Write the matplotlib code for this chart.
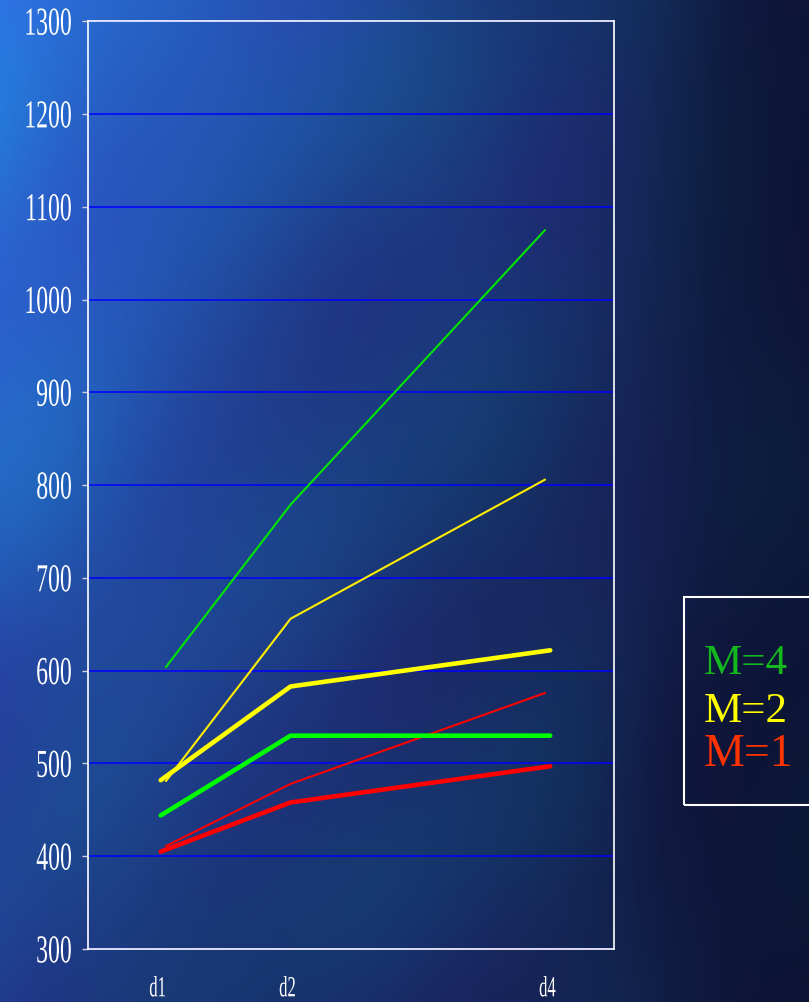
import numpy as np
import matplotlib
matplotlib.use("Agg")
import matplotlib.pyplot as plt
from matplotlib.patches import Rectangle
from matplotlib.patheffects import AbstractPathEffect
from matplotlib.transforms import Affine2D, ScaledTranslation

# sampling days (d1, d2, d4) and the two runs for each M
days = [1, 2, 4]
days_run_a = [1.04, 2.0, 3.96]
day_labels = ["d1", "d2", "d4"]

run_a_m4 = [604, 779, 1075]
run_a_m2 = [481, 656, 806]
run_a_m1 = [411, 478, 576]

run_b_m4 = [444, 530, 530]
run_b_m2 = [482, 583, 622]
run_b_m1 = [405, 458, 497]

y_ticks = [300, 400, 500, 600, 700, 800, 900, 1000, 1100, 1200, 1300]
legend_labels = ["M=4", "M=2", "M=1"]


class Stretch(AbstractPathEffect):
    """Rescale the glyph outlines, keeping one horizontal edge and the ink's mid-height fixed."""

    def __init__(self, sx, sy=1.0, anchor="right"):
        super().__init__()
        self.sx = sx
        self.sy = sy
        self.anchor = anchor

    def draw_path(self, renderer, gc, tpath, affine, rgbFace=None):
        ext = tpath.get_extents()
        if self.anchor == "right":
            x0 = ext.x1
        elif self.anchor == "center":
            x0 = (ext.x0 + ext.x1) / 2
        else:
            x0 = ext.x0
        y0 = (ext.y0 + ext.y1) / 2
        sc = Affine2D().translate(-x0, -y0).scale(self.sx, self.sy).translate(x0, y0)
        renderer.draw_path(gc, tpath, sc + affine, rgbFace)


def backdrop(h=280, w=230):
    # cloudy blue slide background: bright top-left, dark navy on the right
    u = np.linspace(0, 1, w)[None, :]
    v = np.linspace(0, 1, h)[:, None]
    tau = 2 * np.pi
    edge = np.clip((u - 0.7) / 0.25, 0, 1)
    t = 1 - 0.95 * u - 0.5 * v + 0.45 * u * v - 0.15 * edge * edge * (3 - 2 * edge)
    f1 = (0.5 * np.sin(tau * (1.4 * u + 0.9 * v) + 0.6) * np.cos(tau * (1.1 * u - 1.6 * v) + 1.1)
          + 0.35 * np.sin(tau * (2.6 * v + 1.9 * u) + 0.3)
          + 0.25 * np.cos(tau * (3.1 * u - 0.8 * v) + 2.2))
    f2 = 0.5 * np.cos(tau * (1.7 * u + 0.3 * v) + 2.0) * np.sin(tau * (0.5 * u + 1.6 * v) + 0.4)
    t = t + 0.07 * f2

    stops = [-0.35, 0.0, 0.25, 0.5, 0.75, 1.0]
    reds = [10, 15, 23, 30, 38, 46]
    greens = [14, 27, 45, 63, 90, 115]
    blues = [40, 64, 100, 138, 188, 228]
    rgb = np.stack([np.interp(t, stops, reds),
                    np.interp(t, stops, greens),
                    np.interp(t, stops, blues)], axis=-1)
    w8 = np.clip(0.35 + 0.65 * t, 0.2, 1)[..., None]
    rgb += f1[..., None] * np.array([-7, 18, 4.0]) * w8
    return np.clip(rgb, 0, 255) / 255


fig = plt.figure(figsize=(8.09, 10.03), dpi=100)

bg = fig.add_axes([0, 0, 1, 1], zorder=0)
bg.imshow(backdrop(), aspect="auto", interpolation="bicubic", extent=[0, 1, 0, 1])
bg.axis("off")

ax = fig.add_axes([0.1088, 0.0528, 0.650, 0.925], zorder=1)
ax.set_facecolor("none")

ax.plot(days_run_a, run_a_m4, color="#00e600", lw=1.5, solid_capstyle="round")
ax.plot(days_run_a, run_a_m2, color="#ffee00", lw=1.5, solid_capstyle="round")
ax.plot(days_run_a, run_a_m1, color="#ff0000", lw=1.5, solid_capstyle="round")
ax.plot(days, run_b_m4, color="#00ff00", lw=3.3, solid_capstyle="round")
ax.plot(days, run_b_m2, color="#ffff00", lw=3.3, solid_capstyle="round")
ax.plot(days, run_b_m1, color="#ff0000", lw=3.3, solid_capstyle="round")

ax.set_xlim(0.44, 4.49)
ax.set_ylim(300, 1300)

ax.set_yticks(y_ticks)
ax.set_yticklabels([str(t) for t in y_ticks])
ax.set_xticks(days)
ax.set_xticklabels(day_labels)

ax.yaxis.grid(True, color="#0000ff", lw=1.1)
ax.set_axisbelow(True)

for side in ["left", "right", "top", "bottom"]:
    ax.spines[side].set_color("white")
    ax.spines[side].set_linewidth(1.2)

ax.tick_params(axis="y", length=4.3, width=1.0, color="#d0d0dc", pad=7.5,
               labelcolor="white", labelsize=20)
ax.tick_params(axis="x", length=0, pad=20, labelcolor="white", labelsize=20)

# tall, narrow serif numerals on the value axis
for lbl in ax.get_yticklabels():
    lbl.set_fontfamily("Liberation Serif")
    lbl.set_path_effects([Stretch(0.855, 1.425, "right")])
nudge = ScaledTranslation(-3 / 100, 0, fig.dpi_scale_trans)
for lbl in ax.get_xticklabels():
    lbl.set_fontfamily("Liberation Serif")
    lbl.set_path_effects([Stretch(0.6, 1.05, "center")])
    lbl.set_transform(lbl.get_transform() + nudge)

# key box on the right
fig.patches.append(Rectangle((0.8455, 0.1964), 0.2, 0.2077, transform=fig.transFigure,
                             fill=False, edgecolor="white", lw=1.5, zorder=3))
key_colors = ["#14b81e", "#ffff00", "#ff3300"]
key_sizes = [31, 31, 33]
key_base = [0.328, 0.280, 0.2363]
for txt, c, s, yb in zip(legend_labels, key_colors, key_sizes, key_base):
    fig.text(0.870, yb, txt, color=c, fontsize=s, family="Liberation Serif",
             va="baseline", ha="left", zorder=4)

fig.savefig("out.png", dpi=100)
